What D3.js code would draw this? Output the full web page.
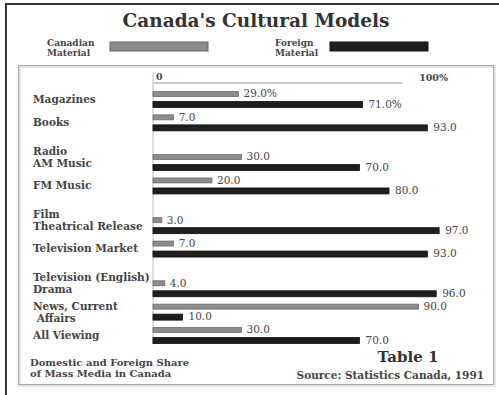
<!DOCTYPE html>
<html>
<head>
<meta charset="utf-8">
<script src="https://cdn.jsdelivr.net/npm/d3@7"></script>
<style>
  body { margin: 0; background: #fff; }
  text { font-family: "DejaVu Serif", "Liberation Serif", serif; fill: #222; }
</style>
</head>
<body>
<div id="chart"></div>
<script>
// data
var categories = ['Magazines', 'Books', 'AM Music', 'FM Music', 'Theatrical Release',
                  'Television Market', 'Drama', 'News, Current', 'All Viewing'];
var headers = ['', '', 'Radio', '', 'Film', '', 'Television (English)', '', ''];
var secondLines = ['', '', '', '', '', '', '', ' Affairs', ''];
var canadian = [29.0, 7.0, 30.0, 20.0, 3.0, 7.0, 4.0, 90.0, 30.0];
var foreign = [71.0, 93.0, 70.0, 80.0, 97.0, 93.0, 96.0, 10.0, 70.0];

var width = 499, height = 395;

var svg = d3.select('#chart').append('svg')
    .attr('width', width)
    .attr('height', height);

// outer frame (only top and left show)
svg.append('rect')
    .attr('x', 6).attr('y', 4)
    .attr('width', 520).attr('height', 420)
    .attr('fill', 'none')
    .attr('stroke', '#333')
    .attr('stroke-width', 2);

// inner box
svg.append('rect')
    .attr('x', 19.5).attr('y', 66.5)
    .attr('width', 475).attr('height', 319)
    .attr('fill', 'none')
    .attr('stroke', '#e4e4e4')
    .attr('stroke-width', 3);
svg.append('rect')
    .attr('x', 18.5).attr('y', 65.5)
    .attr('width', 475).attr('height', 319)
    .attr('fill', 'none')
    .attr('stroke', '#aaa')
    .attr('stroke-width', 1);

svg.append('text')
    .attr('x', 256).attr('y', 27)
    .attr('text-anchor', 'middle')
    .style('font-size', '18.5px')
    .style('font-weight', 'bold')
    .style('fill', '#333')
    .text("Canada's Cultural Models");

// legend
var legend = [
  {name: ['Canadian', 'Material'], color: '#8c8c8c', stroke: '#666', x: 47, sx: 110},
  {name: ['Foreign', 'Material'], color: '#1e1e1e', stroke: '#111', x: 275, sx: 330}
];
legend.forEach(function(l) {
    l.name.forEach(function(s, i) {
        svg.append('text')
            .attr('x', l.x).attr('y', 46 + i * 10)
            .style('font-size', '9px')
            .style('font-weight', 'bold')
            .style('fill', '#444')
            .text(s);
    });
    svg.append('rect')
        .attr('x', l.sx).attr('y', 42)
        .attr('width', 98).attr('height', 9)
        .attr('fill', l.color)
        .attr('stroke', l.stroke);
});

// slot for each category, header lines take extra room
var slots = [];
var extra = 0;
categories.forEach(function(c, i) {
    if (headers[i]) extra += 0.7;
    slots.push(i + extra);
});

var x = d3.scaleLinear().domain([0, 100]).range([153, 448]);
var y = d3.scaleLinear().domain([0, d3.max(slots)]).range([94, 330]);
var pitch = 10.5;

// axis
svg.append('line')
    .attr('x1', x(0)).attr('x2', x(100) - 45)
    .attr('y1', 83).attr('y2', 83)
    .attr('stroke', '#999').attr('stroke-width', 1);
svg.append('line')
    .attr('x1', x(0)).attr('x2', x(0))
    .attr('y1', 73).attr('y2', y(d3.max(slots)) + pitch + 4)
    .attr('stroke', '#bbb').attr('stroke-width', 1);
svg.append('text')
    .attr('x', x(0) + 3).attr('y', 80)
    .style('font-size', '9.5px').style('font-weight', 'bold').style('fill', '#444')
    .text('0');
svg.append('text')
    .attr('x', x(100)).attr('y', 81)
    .attr('text-anchor', 'end')
    .style('font-size', '9.5px').style('font-weight', 'bold').style('fill', '#444')
    .text('100%');

var fmt = d3.format('.1f');
function label(v, i) {
    return fmt(v) + (i === 0 ? '%' : '');
}

var rows = svg.append('g').selectAll('g')
    .data(categories)
    .enter().append('g');

// category labels
rows.each(function(c, i) {
    var g = d3.select(this);
    var yc = y(slots[i]) + pitch / 2;
    var lines = [];
    if (headers[i]) lines.push(headers[i]);
    lines.push(c);
    if (secondLines[i]) lines.push(secondLines[i]);
    var top = headers[i] ? yc - 11 : (secondLines[i] ? yc - 6 : yc);
    lines.forEach(function(s, k) {
        g.append('text')
            .attr('x', 33)
            .attr('y', top + k * 12)
            .attr('dy', '0.35em')
            .attr('xml:space', 'preserve')
            .style('font-size', '10.5px')
            .style('font-weight', 'bold')
            .style('fill', '#444')
            .text(s);
    });
});

rows.append('rect')
    .attr('x', x(0))
    .attr('y', function(d, i) { return y(slots[i]) - 2.5; })
    .attr('width', function(d, i) { return x(canadian[i]) - x(0); })
    .attr('height', 5)
    .attr('fill', '#8c8c8c')
    .attr('stroke', '#6e6e6e')
    .attr('stroke-width', 0.8);

rows.append('rect')
    .attr('x', x(0))
    .attr('y', function(d, i) { return y(slots[i]) + pitch - 3; })
    .attr('width', function(d, i) { return x(foreign[i]) - x(0); })
    .attr('height', 6)
    .attr('fill', '#1e1e1e')
    .attr('stroke', '#111')
    .attr('stroke-width', 0.8);

rows.append('text')
    .attr('x', function(d, i) { return x(canadian[i]) + 5; })
    .attr('y', function(d, i) { return y(slots[i]); })
    .attr('dy', '0.32em')
    .style('font-size', '10.5px')
    .style('fill', '#444')
    .text(function(d, i) { return label(canadian[i], i); });

rows.append('text')
    .attr('x', function(d, i) { return x(foreign[i]) + 6; })
    .attr('y', function(d, i) { return y(slots[i]) + pitch; })
    .attr('dy', '0.32em')
    .style('font-size', '10.5px')
    .style('fill', '#444')
    .text(function(d, i) { return label(foreign[i], i); });

// footer
['Domestic and Foreign Share', 'of Mass Media in Canada'].forEach(function(s, i) {
    svg.append('text')
        .attr('x', 30).attr('y', 366 + i * 11)
        .style('font-size', '10px')
        .style('font-weight', 'bold')
        .style('fill', '#444')
        .text(s);
});
svg.append('text')
    .attr('x', 408).attr('y', 362)
    .attr('text-anchor', 'middle')
    .style('font-size', '15px')
    .style('font-weight', 'bold')
    .style('fill', '#333')
    .text('Table 1');
svg.append('text')
    .attr('x', 484).attr('y', 379)
    .attr('text-anchor', 'end')
    .style('font-size', '10.5px')
    .style('font-weight', 'bold')
    .style('fill', '#444')
    .text('Source: Statistics Canada, 1991');
</script>
</body>
</html>
